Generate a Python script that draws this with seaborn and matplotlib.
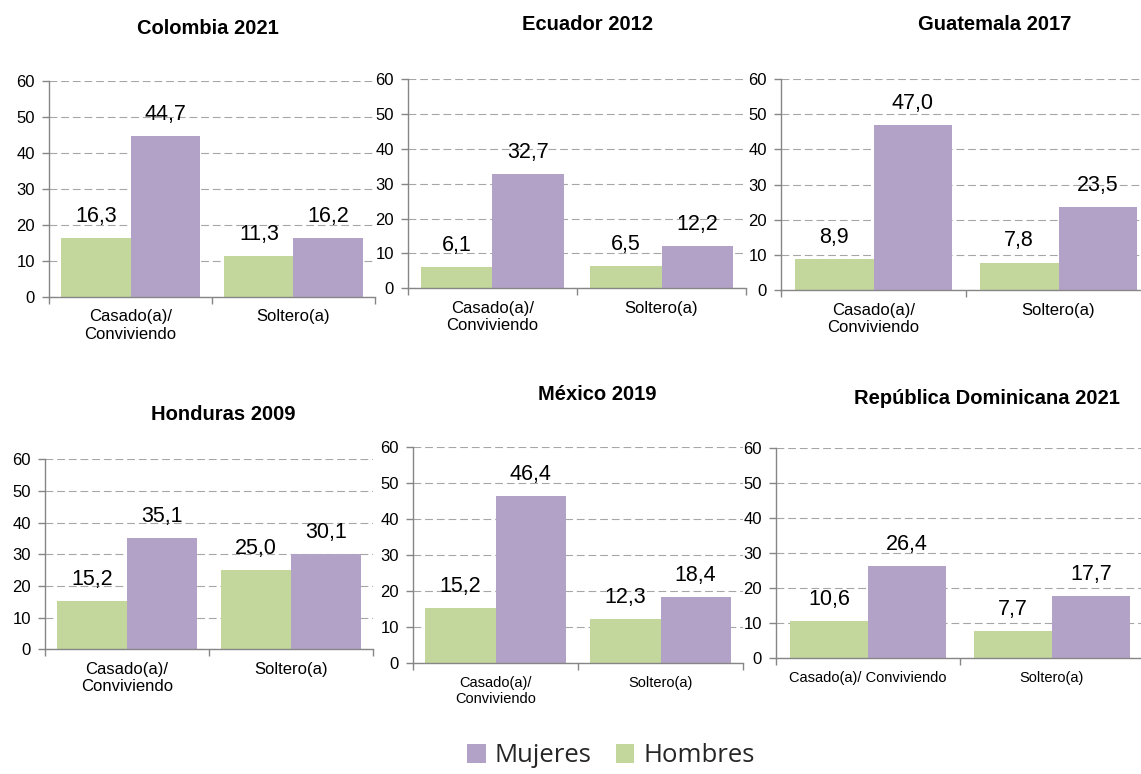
import matplotlib
matplotlib.use("Agg")
import matplotlib.pyplot as plt
from matplotlib.patches import Patch
import seaborn as sns
import pandas as pd

# ---------------- data ----------------
countries = ["Colombia 2021", "Ecuador 2012", "Guatemala 2017",
             "Honduras 2009", "México 2019", "República Dominicana 2021"]
categories = ["Casado(a)/\nConviviendo", "Soltero(a)"]
series = ["Hombres", "Mujeres"]
legend_order = ["Mujeres", "Hombres"]

hombres_casado = [16.3, 6.1, 8.9, 15.2, 15.2, 10.6]
hombres_soltero = [11.3, 6.5, 7.8, 25.0, 12.3, 7.7]
mujeres_casado = [44.7, 32.7, 47.0, 35.1, 46.4, 26.4]
mujeres_soltero = [16.2, 12.2, 23.5, 30.1, 18.4, 17.7]

y_ticks = [0, 10, 20, 30, 40, 50, 60]

# category tick labels as printed in each panel
cat_labels = [
    ["Casado(a)/\nConviviendo", "Soltero(a)"],
    ["Casado(a)/\nConviviendo", "Soltero(a)"],
    ["Casado(a)/\nConviviendo", "Soltero(a)"],
    ["Casado(a)/\nConviviendo", "Soltero(a)"],
    ["Casado(a)/\nConviviendo", "Soltero(a)"],
    ["Casado(a)/ Conviviendo", "Soltero(a)"],
]

# ---------------- style ----------------
GREEN = "#C3D69B"
PURPLE = "#B3A2C7"
GRID = "#A6A6A6"
SPINE = "#868686"

sns.set_theme(style="white")
plt.rcParams["font.family"] = ["Liberation Sans", "DejaVu Sans"]

W, H = 1141, 774
fig = plt.figure(figsize=(W / 100, H / 100), dpi=100)

# panel geometry in pixels: left, right, top(60), bottom(0), title x, title y, cat fontsize
layout = [
    (49, 375, 80.7, 296.7, 208, 28, 12),
    (408, 746, 79, 288.3, 587, 24, 12),
    (781, 1151, 79, 290, 995, 25, 12),
    (45, 373, 459.3, 649.3, 223, 415, 12),
    (413, 743, 446.7, 663, 597, 395, 10.5),
    (776, 1144, 447.7, 658.3, 987, 398, 10.5),
]

def fmt(v):
    return f"{v:.1f}".replace(".", ",")

for i, country in enumerate(countries):
    l, r, t, b, tx, ty, cfs = layout[i]
    ax = fig.add_axes([l / W, 1 - b / H, (r - l) / W, (b - t) / H])
    df = pd.DataFrame({
        "estado": [categories[0], categories[1], categories[0], categories[1]],
        "sexo": ["Hombres", "Hombres", "Mujeres", "Mujeres"],
        "valor": [hombres_casado[i], hombres_soltero[i],
                  mujeres_casado[i], mujeres_soltero[i]],
    })
    sns.barplot(data=df, x="estado", y="valor", hue="sexo",
                order=categories, hue_order=series,
                palette={"Hombres": GREEN, "Mujeres": PURPLE},
                width=0.85, saturation=1, linewidth=0,
                legend=False, ax=ax)
    ax.set_xlim(-0.5, 1.5)
    ax.set_ylim(0, 60)
    ax.set_yticks(y_ticks)
    ax.set_xlabel("")
    ax.set_ylabel("")
    ax.set_xticks([0, 1])
    ax.set_xticklabels(cat_labels[i], fontsize=cfs)
    ax.set_xticks([-0.5, 0.5, 1.5], minor=True)
    ax.tick_params(axis="x", which="major", length=0, pad=9, colors="black")
    ax.tick_params(axis="x", which="minor", length=5, width=1, color=SPINE,
                   direction="out", bottom=True)
    ax.tick_params(axis="y", length=5, width=1, color=SPINE, pad=5,
                   labelsize=12, left=True, labelcolor="black")
    ax.yaxis.grid(True, linestyle=(0, (7, 3.5)), color=GRID, linewidth=0.8)
    ax.xaxis.grid(False)
    ax.set_axisbelow(True)
    for s in ["top", "right"]:
        ax.spines[s].set_visible(False)
    for s in ["left", "bottom"]:
        ax.spines[s].set_color(SPINE)
        ax.spines[s].set_linewidth(1)
    for cont in ax.containers:
        ax.bar_label(cont, labels=[fmt(v) for v in cont.datavalues],
                     padding=8, fontsize=15.5, color="black")
    fig.text(tx / W, 1 - ty / H, country, ha="center", va="center",
             fontsize=14.5, fontweight="bold", color="black")

handles = [Patch(facecolor=PURPLE if s == "Mujeres" else GREEN, edgecolor="none")
           for s in legend_order]
fig.legend(handles, legend_order, loc="center left",
           bbox_to_anchor=(467 / W, 1 - 756 / H), ncol=2, frameon=False,
           prop={"family": ["Open Sans", "DejaVu Sans"], "size": 18.5},
           handlelength=0.72, handleheight=0.8, handletextpad=0.35,
           columnspacing=0.95, borderpad=0, borderaxespad=0)

fig.savefig("out.png", dpi=100)
